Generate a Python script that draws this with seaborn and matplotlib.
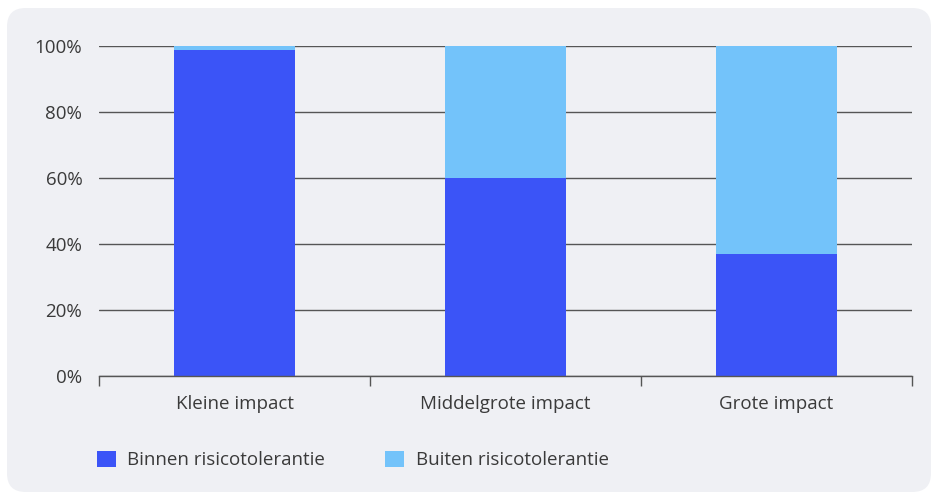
import matplotlib
matplotlib.use("Agg")
import matplotlib.pyplot as plt
from matplotlib.patches import FancyBboxPatch, Patch
from matplotlib.ticker import FixedLocator
import seaborn as sns
import pandas as pd

categories = ["Kleine impact", "Middelgrote impact", "Grote impact"]
binnen = [98.8, 60.0, 37.0]
buiten = [1.2, 40.0, 63.0]
series_labels = ["Binnen risicotolerantie", "Buiten risicotolerantie"]
yticks = [0, 20, 40, 60, 80, 100]

c_binnen = "#3b54f7"
c_buiten = "#73c3fa"
panel = "#eff0f4"
txt = "#3a3a3a"
fs = 13.5

sns.set_theme(style="white")
plt.rcParams["font.family"] = ["Open Sans", "DejaVu Sans"]

fig = plt.figure(figsize=(9.32, 4.94), dpi=100)
fig.patch.set_facecolor("white")
bg = FancyBboxPatch((7/932, 2/494), 924/932, 484/494,
                    boxstyle="round,pad=0,rounding_size=0.02",
                    transform=fig.transFigure, facecolor=panel, edgecolor="none",
                    mutation_aspect=932/494, zorder=-10)
fig.patches.append(bg)

ax = fig.add_axes([99/932, 1 - 376/494, (912-99)/932, (376-46)/494])
ax.set_zorder(2)
ax.set_facecolor("none")

df = pd.DataFrame({"cat": categories, "binnen": binnen, "buiten": buiten})
sns.barplot(data=df, x="cat", y="binnen", color=c_binnen, width=0.45,
            saturation=1, ax=ax, zorder=3, linewidth=0, edgecolor="none")
sns.barplot(data=df, x="cat", y="buiten", bottom=df["binnen"], color=c_buiten,
            width=0.45, saturation=1, ax=ax, zorder=3, linewidth=0, edgecolor="none")

ax.set_xlim(-0.5, 2.5)
ax.set_ylim(0, 100)
ax.set_yticks(yticks)
ax.set_yticklabels([f"{v}%" for v in yticks])
ax.yaxis.grid(True, color="#555555", linewidth=1.0, zorder=1)
ax.set_axisbelow(True)
ax.set_xlabel("")
ax.set_ylabel("")
for s in ["top", "right", "left"]:
    ax.spines[s].set_visible(False)
ax.spines["bottom"].set_color("#555555")
ax.spines["bottom"].set_linewidth(1.0)
ax.spines["bottom"].set_zorder(4)

ax.xaxis.set_minor_locator(FixedLocator([-0.5, 0.5, 1.5, 2.5]))
ax.tick_params(axis="x", which="major", length=0, pad=13.5, labelsize=fs, labelcolor=txt)
ax.tick_params(axis="x", which="minor", bottom=True, length=7, width=1, color="#555555", direction="out")
ax.tick_params(axis="y", length=0, pad=12, labelsize=fs, labelcolor=txt)

handles = [Patch(facecolor=c_binnen, edgecolor="none"), Patch(facecolor=c_buiten, edgecolor="none")]
fig.legend(handles, series_labels, loc="center left", bbox_to_anchor=(80/932, 1 - 460/494),
           ncol=2, frameon=False, fontsize=fs, handlelength=1.0, handleheight=1.0,
           columnspacing=3.2, handletextpad=0.62, labelcolor=txt)

fig.savefig("out.png", dpi=100)
